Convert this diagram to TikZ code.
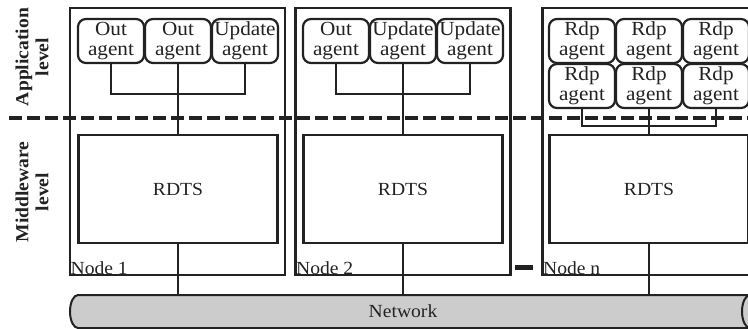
\documentclass[tikz,border=0pt]{standalone}
\usepackage{fontspec}
\setmainfont{Liberation Serif}[FakeStretch=1.06]
\usepackage{tikz}
\usetikzlibrary{positioning, calc}
\definecolor{netgray}{HTML}{CCCCCC}
\definecolor{ink}{HTML}{222222}
\tikzset{
    host/.style = {draw, line width=2.2pt, minimum width=215pt,
                   minimum height=267pt, inner sep=0pt},
    agent/.style = {draw, line width=2.2pt, rounded corners=8pt,
                    minimum width=66pt, minimum height=44pt, inner sep=0pt,
                    align=center, font=\fontsize{20}{20}\selectfont},
    rdts/.style = {draw, line width=2.2pt, minimum width=199pt,
                   minimum height=108pt, font=\fontsize{18.5}{20}\selectfont},
    pipelabel/.style = {minimum width=660pt, minimum height=33pt,
                        inner sep=0pt, font=\fontsize{18.5}{20}\selectfont},
    link/.style = {line width=2pt},
    levelline/.style = {line width=3.3pt, dash pattern=on 13pt off 5pt},
    sidelabel/.style = {rotate=90, align=center, inner sep=0pt,
                        font=\fontsize{18.5}{20}\selectfont\bfseries},
    hostname/.style = {anchor=south west, inner sep=1.5pt,
                       font=\fontsize{18.5}{20}\selectfont},
}
\begin{document}
\begin{tikzpicture}[x=1pt, y=-1pt, color=ink]
        \useasboundingbox (0,0) rectangle (748,329);
        \clip (0,0) rectangle (748,329);
        % Network pipe
        \fill[netgray] (78,295) -- (760,295) -- (760,328) -- (78,328)
              arc[start angle=90, end angle=270, x radius=8, y radius=16.5] -- cycle;
        \draw[link] (760,295) -- (78,295)
              arc[start angle=270, end angle=90, x radius=8, y radius=16.5] -- (760,328);
        \draw[link] (750,311.5) ellipse [x radius=8, y radius=16.5];
        \node[pipelabel] (net) at (403,311.5) {Network};
        % Hosts
        \node[host] (host1) at (177.5,141.5) {};
        \node[host] (host2) at (403,141.5) {};
        \node[host] (hostn) at (650,141.5) {};
        \node[hostname] at (host1.south west) {Node 1};
        \node[hostname] at (host2.south west) {Node 2};
        \node[hostname] at (hostn.south west) {Node n};
        \fill (515,265) rectangle (533,270);
        % RDTS layer
        \node[rdts] (rdts1) at (178,189) {RDTS};
        \node[rdts] (rdts2) at (403,189) {RDTS};
        \node[rdts] (rdtsn) at (649,189) {RDTS};
        % Agents of node 1
        \node[agent] (a11) at (111,41) {Out\\agent};
        \node[agent] (a12) at (178,41) {Out\\agent};
        \node[agent] (a13) at (245,41) {Update\\agent};
        % Agents of node 2
        \node[agent] (a21) at (336,41) {Out\\agent};
        \node[agent] (a22) at (403,41) {Update\\agent};
        \node[agent] (a23) at (470,41) {Update\\agent};
        % Agents of node n (two rows)
        \foreach \i/\x in {1/582, 2/649, 3/716} {
            \node[agent] (up\i) at (\x,41) {Rdp\\agent};
            \node[agent] (lo\i) at (\x,86) {Rdp\\agent};
            \draw[link] (up\i.south) -- (lo\i.north);
        }
        % Links
        \coordinate (bar1) at (178,94);
        \coordinate (bar2) at (403,94);
        \coordinate (barn) at (649,126);
        \draw[link] (a11.south) |- (bar1) -| (a13.south);
        \draw[link] (a12.south) -- (rdts1.north);
        \draw[link] (a21.south) |- (bar2) -| (a23.south);
        \draw[link] (a22.south) -- (rdts2.north);
        \draw[link] (lo1.south) |- (barn) -| (lo3.south);
        \draw[link] (lo2.south) -- (rdtsn.north);
        \draw[link] (rdts1.south) -- (rdts1.south |- net.north);
        \draw[link] (rdts2.south) -- (rdts2.south |- net.north);
        \draw[link] (rdtsn.south) -- (rdtsn.south |- net.north);
        % Level separator
        \draw[levelline] (9,118) -- (760,118);
        \node[sidelabel] (app) at (32,57) {Application\\level};
        \node[sidelabel] (mid) at (32,192) {Middleware\\level};
\end{tikzpicture}
\end{document}
